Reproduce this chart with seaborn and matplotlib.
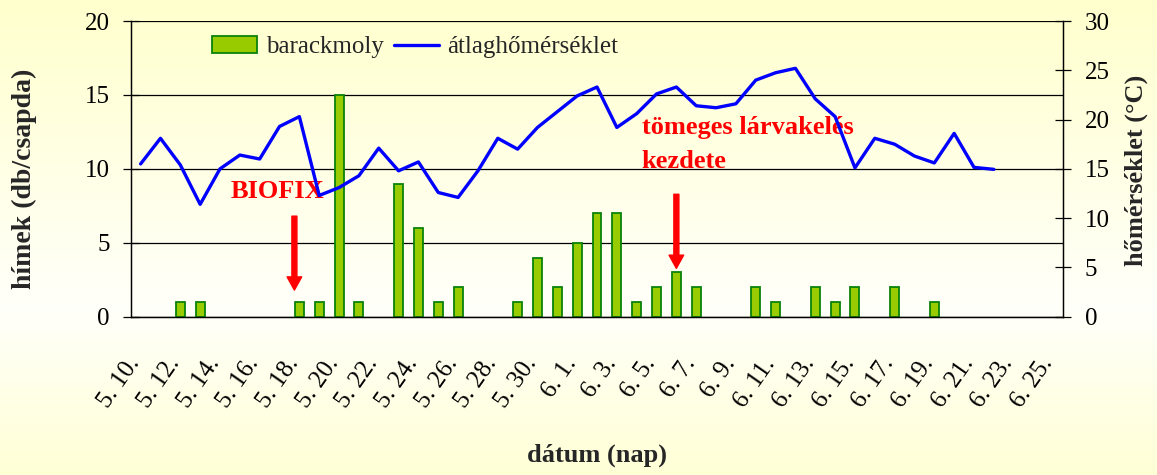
import numpy as np
import pandas as pd
import matplotlib
matplotlib.use("Agg")
import matplotlib.pyplot as plt
import seaborn as sns
from matplotlib.transforms import ScaledTranslation

# ---------------- data ----------------
dates = ["5. 10.", "5. 11.", "5. 12.", "5. 13.", "5. 14.", "5. 15.", "5. 16.", "5. 17.",
         "5. 18.", "5. 19.", "5. 20.", "5. 21.", "5. 22.", "5. 23.", "5. 24.", "5. 25.",
         "5. 26.", "5. 27.", "5. 28.", "5. 29.", "5. 30.", "5. 31.", "6. 1.", "6. 2.",
         "6. 3.", "6. 4.", "6. 5.", "6. 6.", "6. 7.", "6. 8.", "6. 9.", "6. 10.",
         "6. 11.", "6. 12.", "6. 13.", "6. 14.", "6. 15.", "6. 16.", "6. 17.", "6. 18.",
         "6. 19.", "6. 20.", "6. 21.", "6. 22.", "6. 23.", "6. 24.", "6. 25."]

# barackmoly (males / trap)
counts = [0, 0, 1, 1, 0, 0, 0, 0, 1, 1, 15, 1, 0, 9, 6, 1, 2, 0, 0, 1, 4, 2,
          5, 7, 7, 1, 2, 3, 2, 0, 0, 2, 1, 0, 2, 1, 2, 0, 2, 0, 1, 0, 0, 0, 0, 0, 0]

# átlaghőmérséklet (°C)
temps = [15.5, 18.1, 15.4, 11.4, 15.0, 16.4, 16.0, 19.3, 20.3, 12.3, 13.1, 14.3,
         17.1, 14.8, 15.7, 12.6, 12.1, 14.8, 18.1, 17.0, 19.2, 20.8, 22.4, 23.3,
         19.2, 20.6, 22.6, 23.3, 21.4, 21.2, 21.6, 24.0, 24.75, 25.2, 22.1, 20.3,
         15.1, 18.1, 17.5, 16.3, 15.6, 18.6, 15.15, 14.95, None, None, None]

label_dates = dates[::2]

legend_labels = ["barackmoly", "átlaghőmérséklet"]

# ---------------- figure ----------------
sns.set_theme(style="white")
plt.rcParams["font.family"] = ["Liberation Serif", "DejaVu Serif"]
plt.rcParams["axes.unicode_minus"] = False

W, H = 1157, 475
fig = plt.figure(figsize=(W / 100, H / 100), dpi=100)

# background gradient
bg = fig.add_axes([0, 0, 1, 1], zorder=-10)
stops_y = np.array([0.0, 0.65, 1.0])
stops_b = np.array([205, 250, 214])
yy = np.linspace(0, 1, 400)
bvals = np.interp(yy, stops_y, stops_b) / 255.0
grad = np.ones((400, 2, 3))
grad[:, :, 2] = bvals[:, None]
bg.imshow(grad, aspect="auto", extent=[0, 1, 0, 1], origin="upper")
bg.axis("off")

left, right = 130.7, 1063.3
top, bottom = 21.0, 316.7
ax = fig.add_axes([left / W, 1 - bottom / H, (right - left) / W, (bottom - top) / H])
ax.set_facecolor("none")

df = pd.DataFrame({"day": np.arange(len(dates)), "date": dates,
                   "count": counts, "temp": temps})
bars_df = df[df["count"] > 0]
sns.barplot(data=bars_df, x="day", y="count", native_scale=True, width=0.45,
            color="#99CC00", saturation=1, edgecolor="#0A820A", linewidth=1.3,
            errorbar=None, ax=ax, zorder=2)

ax2 = ax.twinx()
line_df = df.dropna(subset=["temp"])
sns.lineplot(data=line_df, x="day", y="temp", ax=ax2, color="#0000FF",
             linewidth=2.4, solid_joinstyle="round", solid_capstyle="round")

# axes limits & ticks
ax.set_xlim(-0.5, len(dates) - 0.5)
ax.set_ylim(0, 20)
ax2.set_ylim(0, 30)
ax.set_yticks([0, 5, 10, 15, 20])
ax2.set_yticks([0, 5, 10, 15, 20, 25, 30])

ax.set_xticks(np.arange(0, len(dates), 2) - 0.5)
ax.set_xticks(np.arange(0, len(dates), 2), labels=label_dates, minor=True)
ax.tick_params(axis="x", which="major", direction="inout", length=12, width=0.9,
               color="#333333", labelbottom=False)
ax.tick_params(axis="x", which="minor", length=0, pad=31, labelsize=18,
               labelcolor="black")
off = ScaledTranslation(-5 / 100, 0, fig.dpi_scale_trans)
for lab in ax.get_xticklabels(minor=True):
    lab.set_rotation(55)
    lab.set_ha("right")
    lab.set_va("center")
    lab.set_rotation_mode("anchor")
    lab.set_transform(lab.get_transform() + off)

ax.tick_params(axis="y", direction="inout", length=12, width=0.9, color="black",
               pad=9, labelsize=18, labelcolor="black", left=True)
ax2.tick_params(axis="y", direction="inout", length=12, width=0.9, color="black",
                pad=9.6, labelsize=18, labelcolor="black", right=True)

ax.grid(axis="y", color="black", linewidth=0.9)
ax.grid(axis="x", visible=False)
ax2.grid(False)
ax.set_axisbelow(True)

for a in (ax, ax2):
    for s in a.spines.values():
        s.set_color("black")
        s.set_linewidth(0.9)
    a.spines["top"].set_visible(False)

# labels
ax.set_xlabel("dátum (nap)", fontsize=19, fontweight="bold")
ax.xaxis.set_label_coords(0.5, -0.43)
ax.set_ylabel("hímek (db/csapda)", fontsize=20, fontweight="bold")
ax.yaxis.set_label_coords(-0.1008, 0.466)
ax2.set_ylabel("hőmérséklet (°C)", fontsize=19, fontweight="bold")
ax2.yaxis.set_label_coords(1.066, 0.496)

# annotations
ax.text(6.92, 8.03, "BIOFIX", color="#FF0000", fontsize=19, fontweight="bold",
        ha="center", va="baseline", zorder=3)
ax.text(25.26, 12.36, "tömeges lárvakelés", color="#FF0000", fontsize=19,
        fontweight="bold", ha="left", va="baseline", zorder=3)
ax.text(25.26, 10.06, "kezdete", color="#FF0000", fontsize=19,
        fontweight="bold", ha="left", va="baseline", zorder=3)
arrow_style = "simple,head_length=0.95,head_width=1.05,tail_width=0.36"
ax.annotate("", xy=(7.75, 1.8), xytext=(7.75, 6.8),
            arrowprops=dict(arrowstyle=arrow_style, color="#FF0000",
                            mutation_scale=10, shrinkA=0, shrinkB=0), zorder=3)
ax.annotate("", xy=(27.0, 3.27), xytext=(27.0, 8.28),
            arrowprops=dict(arrowstyle=arrow_style, color="#FF0000",
                            mutation_scale=10, shrinkA=0, shrinkB=0), zorder=3)

# legend
handles = [ax.containers[0], ax2.lines[0]]
if ax.get_legend() is not None:
    ax.get_legend().remove()
leg = ax2.legend(handles, legend_labels, loc="center", bbox_to_anchor=(0.305, 0.912),
                 ncol=2, frameon=False, fontsize=18, handlelength=1.8,
                 handleheight=0.65, handletextpad=0.35, columnspacing=0.4,
                 borderaxespad=0, borderpad=0)

fig.savefig("out.png", dpi=100)
